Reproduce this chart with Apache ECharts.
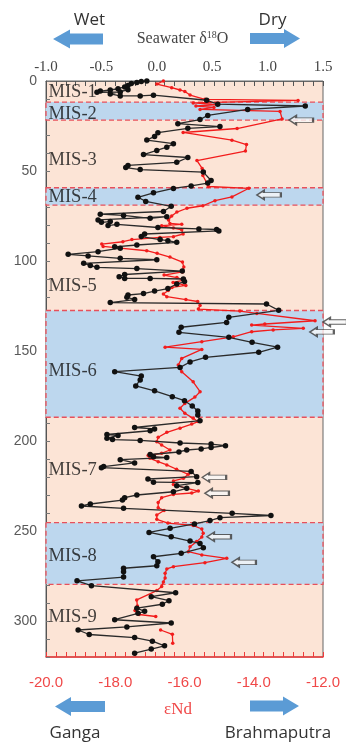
<!DOCTYPE html>
<html><head><meta charset="utf-8">
<script src="https://cdn.jsdelivr.net/npm/echarts@6/dist/echarts.min.js"></script>
<style>html,body{margin:0;padding:0;background:#fff}#c{width:346px;height:751px}</style>
</head><body><div id="c"></div>
<script>
// ---- axis ranges ----
const depthRange = [0, 320];
const d18oRange = [-1.0, 1.5];
const ndRange = [-20, -12];

// ---- MIS stages ----
const misNames = ['MIS-1','MIS-2','MIS-3','MIS-4','MIS-5','MIS-6','MIS-7','MIS-8','MIS-9'];
const misDepth = [6.1, 18.5, 43.9, 64.7, 113.7, 161, 216, 264, 297.6];
const bandTop = [11.7, 59.3, 127.5, 245.4];
const bandBottom = [21.7, 69.0, 186.8, 279.6];

// ---- arrow annotations (tip position: eNd, depth) ----
const arrowNd = [-12.98, -13.91, -12.0, -12.38, -15.49, -15.41, -15.35, -14.63];
const arrowDepth = [21.7, 63.3, 133.9, 139.4, 220.2, 229.0, 253.2, 267.4];

// ---- seawater d18O [value, depth] ----
const d18o = [
[-0.09,0.0],[-0.14,0.3],[-0.18,0.8],[-0.23,1.4],[-0.26,2.5],[-0.29,3.3],[-0.35,4.3],[-0.42,5.0],[-0.51,5.6],[-0.54,6.3],[-0.33,6.1],[-0.26,4.8],[-0.42,7.2],[-0.33,8.3],[-0.15,8.3],[-0.03,7.9],
[0.45,10.7],[0.55,12.9],[1.34,13.9],[0.82,15.8],[0.46,19.1],[0.39,21.4],[0.19,23.7],[0.57,25.3],[0.28,26.3],[0.01,28.7],[-0.02,30.8],[-0.09,32.8],[0.15,34.8],[0.09,36.8],[0.0,38.6],[-0.12,40.9],[0.28,42.5],[0.18,45.2],[-0.26,46.9],[-0.28,48.1],[-0.15,49.2],[0.42,50.6],[0.49,55.3],[0.46,56.7],[0.31,58.3],[0.15,59.7],[-0.03,62.1],[-0.17,64.6],[-0.10,66.9],[0.13,69.6],[0.06,72.5],
[-0.51,74.0],[-0.30,74.7],[-0.06,76.3],[0.09,75.4],[-0.53,77.2],[-0.50,78.5],[-0.42,78.1],[-0.44,80.3],[-0.36,79.6],[0.01,81.4],[0.38,82.2],[0.54,82.5],[0.56,83.3],[-0.11,85.0],[-0.14,86.4],[0.03,88.1],[0.10,88.7],[0.18,89.6],[-0.18,91.1],[-0.38,92.1],[-0.33,92.9],[-0.53,94.8],[-0.80,96.3],[-0.62,97.2],[-0.33,98.5],[0.0,99.3],[-0.66,101.3],[-0.60,102.5],[-0.54,103.5],[-0.18,104.2],[0.23,105.6],[-0.29,107.5],[-0.34,108.7],[-0.29,109.7],[-0.06,109.7],[0.24,110.0],[0.25,111.4],[0.18,112.8],[0.10,115.3],[-0.02,116.7],[-0.12,118.1],[-0.26,118.9],[-0.27,120.1],[-0.20,121.4],[-0.42,123.1],[0.99,123.9],[1.10,127.4],
[0.65,131.3],[0.63,134.1],[0.22,136.8],[0.20,139.6],[0.65,142.4],[0.86,145.2],[1.09,147.9],[0.92,150.7],[0.44,153.5],[0.30,156.1],[0.21,159.1],[-0.38,161.5],[-0.14,163.9],[-0.15,166.1],[-0.19,169.4],[-0.02,172.1],[0.14,175.4],[0.25,177.6],[0.32,180.6],[0.37,183.3],[0.37,185.6],[0.39,188.7],
[-0.20,192.5],[-0.02,193.3],[-0.06,194.3],[-0.45,196.4],[-0.35,196.9],[-0.45,198.5],[-0.40,199.2],[-0.15,199.7],[0.21,201.1],[0.49,201.7],[0.62,202.6],[0.49,203.6],[0.40,204.4],[0.27,205.0],[0.20,206.1],[-0.06,207.5],[-0.03,208.7],[0.09,209.2],[-0.33,210.4],[-0.20,212.2],[-0.48,214.2],[-0.50,214.8],[0.31,216.9],[0.36,219.8],[-0.08,221.1],[-0.03,222.9],[0.37,223.1],[0.18,224.8],[0.27,226.3],[0.15,228.2],[-0.18,230.0],[-0.29,231.5],[-0.31,232.8],[-0.60,235.0],[-0.68,236.1],[-0.30,237.4],[0.68,240.2],[1.03,241.4],[0.57,242.6],[0.48,244.2],
[0.34,246.1],[0.12,248.5],[-0.07,250.8],[0.13,253.2],[0.30,255.6],[0.39,256.9],[0.42,259.3],[0.22,262.4],[-0.03,264.3],[0.01,267.1],[0.0,269.3],[-0.30,270.7],[-0.30,272.6],[-0.30,275.6],[-0.72,277.7],[-0.59,280.4],[0.17,284.3],[-0.05,286.5],[0.11,288.7],[0.05,290.7],[-0.18,292.9],[-0.11,294.6],[-0.17,295.7],[-0.38,299.3],[0.13,301.1],[-0.27,303.3],[-0.71,305.0],[-0.61,307.5],[-0.20,309.2],[-0.04,311.2],[0.07,313.8],[-0.05,315.6],[-0.20,317.9]
];

// ---- eNd [value, depth] (two segments) ----
const ndMain = [
[-16.61,0.0],[-16.80,1.7],[-16.37,3.7],[-16.13,5.0],[-15.99,5.8],[-15.84,7.8],[-15.41,10.2],[-12.72,10.8],[-15.75,12.2],[-15.06,13.1],[-15.67,13.9],[-15.15,14.7],[-15.55,15.8],[-13.24,16.9],[-13.18,21.1],[-14.48,26.4],[-16.04,28.6],[-14.63,32.9],[-14.21,35.3],[-14.24,38.9],[-15.64,44.2],[-15.49,48.6],[-15.47,52.5],[-15.35,56.9],[-15.31,58.6],[-14.14,59.6],[-14.63,64.4],[-15.12,66.5],[-15.47,69.3],[-15.93,70.7],[-16.22,72.8],[-16.37,75.0],[-16.46,77.2],[-16.42,79.1],[-16.08,79.6],[-16.66,80.4],[-16.32,81.7],[-16.08,82.7],[-16.04,85.0],[-16.32,86.5],[-16.71,86.9],[-17.52,88.1],[-17.78,89.3],[-18.39,90.6],[-18.35,91.9],[-17.86,92.9],[-17.09,94.3],[-16.79,95.7],[-16.42,97.8],[-16.06,100.6],[-16.02,103.3],[-16.06,106.1],[-16.59,107.8],[-16.22,109.2],[-16.01,110.6],[-16.33,111.9],[-15.96,113.6],[-16.36,114.7],[-16.47,116.4],[-16.61,118.3],[-16.51,119.8],[-15.96,121.4],[-15.62,122.5],[-15.55,124.7],[-15.60,126.7],
[-14.40,127.8],[-13.91,129.1],[-12.23,133.2],[-13.68,135.0],[-14.06,135.6],[-12.57,137.4],[-13.44,138.3],[-14.06,139.3],[-14.59,142.1],[-15.50,144.8],[-16.56,147.9],[-15.50,149.1],[-16.08,154.1],[-16.18,157.8],[-16.08,161.5],[-15.75,167.1],[-15.55,172.6],[-15.70,175.6],[-15.99,179.1],[-16.13,181.8],[-15.99,184.6],[-15.75,187.4],[-15.61,189.2],[-15.79,190.6],[-16.13,192.9],[-16.51,195.2],[-16.76,197.9],[-16.80,200.4],[-16.66,202.2],[-16.42,205.0],[-16.66,206.8],[-17.05,208.1],[-17.00,209.6],[-16.76,211.5],[-16.51,213.3],[-16.23,215.7],[-15.89,218.5],[-16.03,220.7],[-16.32,222.2],[-16.32,224.1],[-15.94,226.3],[-15.60,227.8],[-15.79,228.9],[-16.32,229.7],[-16.66,231.5],[-16.76,234.1],[-16.76,237.1],[-16.59,238.6],[-16.80,241.1],[-16.80,243.5],[-16.48,245.6],[-15.75,246.9],[-15.50,248.9],[-15.46,251.3],[-15.50,253.3],[-15.65,255.9],[-15.84,258.7],[-15.89,261.5],[-15.50,263.3],[-14.78,265.2],[-15.41,267.6],[-16.32,269.8],[-16.51,271.1],[-16.56,273.5],[-16.56,276.1],[-16.61,278.3],[-16.66,280.9],[-16.80,283.1],[-17.38,288.3],[-17.36,291.7],[-17.43,294.2],[-17.31,296.4],[-16.83,297.5]
];
const ndTail = [[-16.69,305.0],[-16.35,307.4],[-16.34,312.4]];

const chart = echarts.init(document.getElementById('c'), null, {renderer:'canvas'});

const blue = '#5B9BD5';
function arrowPoly(tip, base, tail, cy){
  const hh = 9.5, bh = 5.5;
  return {type:'polygon', silent:true, shape:{points:[
    [tip, cy],[base, cy-hh],[base, cy-bh],[tail, cy-bh],[tail, cy+bh],[base, cy+bh],[base, cy+hh]
  ]}, style:{fill:blue}};
}
function txt(t, x, y, font, color){
  return {type:'text', silent:true, style:{text:t, x:x, y:y, textAlign:'center', textVerticalAlign:'middle', font:font, fill:color}};
}

const arrowPath = 'path://M0,5 L7,0 L7,2.5 L24,2.5 L24,7.5 L7,7.5 L7,10 Z';

chart.setOption({
  animation:false,
  grid:{left:46, right:23, top:81, bottom:94, show:true, backgroundColor:'#FCE4D6', borderColor:'#666', borderWidth:1},
  xAxis:[
    {type:'value', position:'top', min:d18oRange[0], max:d18oRange[1], interval:0.5,
     axisLine:{show:true, onZero:false, lineStyle:{color:'#666'}}, axisTick:{show:false}, splitLine:{show:false},
     axisLabel:{formatter:v=>v.toFixed(1), color:'#444', fontSize:15, fontFamily:'Liberation Serif', margin:6}},
    {type:'value', position:'bottom', min:ndRange[0], max:ndRange[1], interval:2,
     axisLine:{show:true, onZero:false, lineStyle:{color:'#F03A3A', width:1.5}},
     axisTick:{show:true, inside:true, length:5, lineStyle:{color:'#F03A3A'}},
     minorTick:{show:true, splitNumber:7, length:5, lineStyle:{color:'#F03A3A'}},
     splitLine:{show:false}, minorSplitLine:{show:false},
     axisLabel:{formatter:v=>v.toFixed(1), color:'#F04848', fontSize:15, fontFamily:'Liberation Sans', margin:18}},
    {type:'value', position:'top', min:ndRange[0], max:ndRange[1], interval:2,
     axisLine:{show:false, onZero:false}, axisLabel:{show:false}, splitLine:{show:false},
     axisTick:{show:true, inside:true, length:5, lineStyle:{color:'#555'}},
     minorTick:{show:true, splitNumber:7, length:5, lineStyle:{color:'#555'}}}
  ],
  yAxis:{type:'value', inverse:true, min:depthRange[0], max:depthRange[1], interval:10,
    axisLine:{show:true, onZero:false, lineStyle:{color:'#555'}},
    axisTick:{show:true, inside:true, length:4, lineStyle:{color:'#777'}},
    splitLine:{show:false},
    axisLabel:{formatter:v=> (v%50===0 ? String(v) : ''), color:'#595959', fontSize:14, fontFamily:'Liberation Sans', margin:9}},
  series:[
    {type:'line', xAxisIndex:1, z:1, silent:true, symbol:'none', lineStyle:{opacity:0}, data:[[ndRange[0], depthRange[0]]],
     markArea:{silent:true, itemStyle:{color:'#BDD7EE', borderColor:'#E8505B', borderWidth:1.3, borderType:[5,3]},
       data: bandTop.map((t,i)=>[{yAxis:t},{yAxis:bandBottom[i]}])}},
    {type:'line', name:'eNd', xAxisIndex:1, z:3, data:ndMain, symbol:'circle', symbolSize:3.5,
     lineStyle:{color:'#F21C1C', width:1.3}, itemStyle:{color:'#F21C1C'}},
    {type:'line', name:'eNd2', xAxisIndex:1, z:3, data:ndTail, symbol:'circle', symbolSize:3.5,
     lineStyle:{color:'#F21C1C', width:1.3}, itemStyle:{color:'#F21C1C'}},
    {type:'line', name:'d18O', xAxisIndex:0, z:4, data:d18o, symbol:'circle', symbolSize:5.5,
     lineStyle:{color:'#2a2a2a', width:1.3}, itemStyle:{color:'#111'}},
    {type:'scatter', xAxisIndex:1, z:5, silent:true, symbolSize:1, itemStyle:{color:'transparent'},
     data: misNames.map((m,i)=>({name:m, value:[ndRange[0], misDepth[i]]})),
     label:{show:true, position:'right', distance:2, formatter:'{b}', fontFamily:'Liberation Serif', fontSize:18.5, color:'#111'}},
    {type:'scatter', xAxisIndex:1, z:6, silent:true, clip:false, symbol:arrowPath, symbolSize:[24,9], symbolOffset:[12,0],
     itemStyle:{color:'#f7f7f7', borderColor:'#3a3a3a', borderWidth:1.4},
     data: arrowNd.map((x,i)=>[x, arrowDepth[i]])}
  ],
  graphic:[
    arrowPoly(53, 70, 103, 39),
    arrowPoly(300, 284, 250, 38.5),
    arrowPoly(55, 71, 105, 706.5),
    arrowPoly(299, 283, 250, 706),
    txt('Wet', 89.5, 20, '17px "Open Sans"', '#333'),
    txt('Dry', 272.5, 20, '17px "Open Sans"', '#333'),
    {type:'text', silent:true, style:{text:'{a|Seawater δ}{s|18}{a|O}', x:182.5, y:39, textAlign:'center', textVerticalAlign:'middle',
      rich:{a:{fontFamily:'Liberation Serif', fontSize:16, fill:'#444', color:'#444', lineHeight:18},
            s:{fontFamily:'Liberation Serif', fontSize:10, fill:'#444', color:'#444', lineHeight:18, verticalAlign:'top', padding:[0,0,6,0]}}}},
    txt('εNd', 178, 710, '17px "Liberation Serif"', '#F04848'),
    txt('Ganga', 75, 733, '17px "Open Sans"', '#333'),
    txt('Brahmaputra', 278, 733, '17px "Open Sans"', '#333')
  ]
});
</script></body></html>
